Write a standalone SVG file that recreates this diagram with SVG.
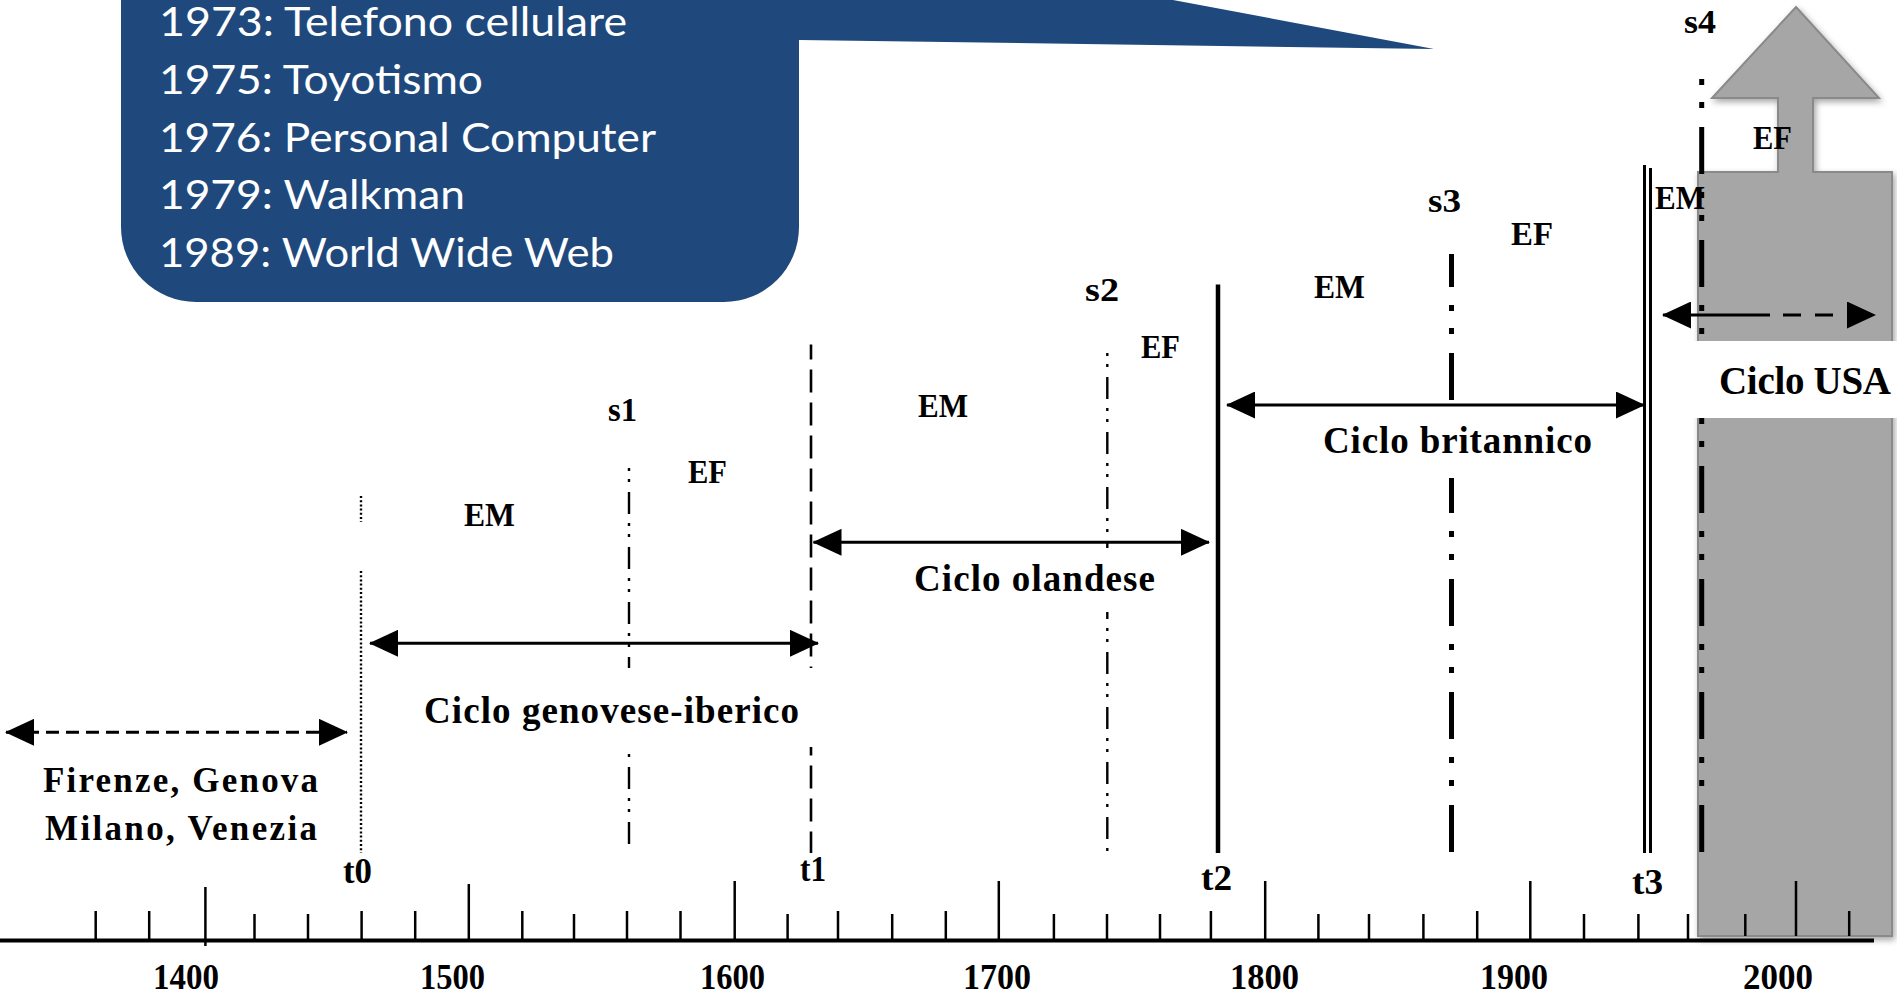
<svg xmlns="http://www.w3.org/2000/svg" width="1897" height="997" viewBox="0 0 1897 997">
<style>
.lbl{font-family:"Liberation Serif","Times New Roman",serif;font-weight:bold;fill:#000}
.s33{font-size:33px}
.s35{font-size:35px}
.s37{font-size:37px}
.co{font-family:Lato,"Open Sans",sans-serif;fill:#fff;font-size:40px}
.tick{stroke:#000;stroke-width:2.5}
.bg{fill:#fff;stroke:none}
.conn{stroke:#000;stroke-width:3;fill:none}
</style>
<defs>
<marker id="ah" viewBox="0 0 29 27" refX="28" refY="13.5" markerWidth="29" markerHeight="27" markerUnits="userSpaceOnUse" orient="auto-start-reverse"><path d="M0,0 L29,13.5 L0,27 Z" fill="#000"/></marker>
<filter id="sh" x="-10%" y="-10%" width="130%" height="130%"><feDropShadow dx="2" dy="3" stdDeviation="3" flood-color="#000" flood-opacity="0.35"/></filter>
</defs>
<rect x="0" y="0" width="1897" height="997" fill="#fff"/>

<g id="callout">
<path d="M121,-5 L1173,-5 L1173,0 L1434,49 L799,40 L799,227 A75,75 0 0 1 724,302 L196,302 A75,75 0 0 1 121,227 Z" fill="#1F497D"/>
<text class="co" x="159" y="36" textLength="468" lengthAdjust="spacingAndGlyphs">1973: Telefono cellulare</text>
<text class="co" x="159" y="94" textLength="324" lengthAdjust="spacingAndGlyphs">1975: Toyotismo</text>
<text class="co" x="159" y="152" textLength="497" lengthAdjust="spacingAndGlyphs">1976: Personal Computer</text>
<text class="co" x="159" y="209" textLength="306" lengthAdjust="spacingAndGlyphs">1979: Walkman</text>
<text class="co" x="159" y="267" textLength="455" lengthAdjust="spacingAndGlyphs">1989: World Wide Web</text>
</g>

<g id="usa-block">
<polygon points="1796,7 1879,98 1813,98 1813,172 1892,172 1892,936 1698,936 1698,172 1778,172 1778,98 1712,98" fill="#A6A6A6" stroke="#8A8A8A" stroke-width="2" filter="url(#sh)"/>
</g>

<g id="axis">
<line x1="0" y1="940.5" x2="1874" y2="940.5" stroke="#000" stroke-width="4"/>
<line class="tick" x1="95.7" y1="911" x2="95.7" y2="940"/>
<line class="tick" x1="149.2" y1="911" x2="149.2" y2="940"/>
<line class="tick" x1="205.4" y1="887" x2="205.4" y2="946"/>
<line class="tick" x1="254.5" y1="914" x2="254.5" y2="940"/>
<line class="tick" x1="308" y1="914" x2="308" y2="940"/>
<line class="tick" x1="361.6" y1="911" x2="361.6" y2="940"/>
<line class="tick" x1="415.2" y1="911" x2="415.2" y2="940"/>
<line class="tick" x1="468.8" y1="884" x2="468.8" y2="940"/>
<line class="tick" x1="522.3" y1="911" x2="522.3" y2="940"/>
<line class="tick" x1="574" y1="914" x2="574" y2="940"/>
<line class="tick" x1="627" y1="911" x2="627" y2="940"/>
<line class="tick" x1="680.5" y1="911" x2="680.5" y2="940"/>
<line class="tick" x1="734.7" y1="881" x2="734.7" y2="940"/>
<line class="tick" x1="787.6" y1="914" x2="787.6" y2="940"/>
<line class="tick" x1="838" y1="911" x2="838" y2="940"/>
<line class="tick" x1="892.2" y1="914" x2="892.2" y2="940"/>
<line class="tick" x1="945.8" y1="911" x2="945.8" y2="940"/>
<line class="tick" x1="998.8" y1="881" x2="998.8" y2="940"/>
<line class="tick" x1="1053.9" y1="914" x2="1053.9" y2="940"/>
<line class="tick" x1="1107" y1="914" x2="1107" y2="940"/>
<line class="tick" x1="1160" y1="914" x2="1160" y2="940"/>
<line class="tick" x1="1210.9" y1="911" x2="1210.9" y2="940"/>
<line class="tick" x1="1265.2" y1="881" x2="1265.2" y2="940"/>
<line class="tick" x1="1318.4" y1="914" x2="1318.4" y2="940"/>
<line class="tick" x1="1369" y1="914" x2="1369" y2="940"/>
<line class="tick" x1="1423.4" y1="914" x2="1423.4" y2="940"/>
<line class="tick" x1="1477.2" y1="911" x2="1477.2" y2="940"/>
<line class="tick" x1="1530.3" y1="881" x2="1530.3" y2="940"/>
<line class="tick" x1="1584" y1="914" x2="1584" y2="940"/>
<line class="tick" x1="1638.4" y1="914" x2="1638.4" y2="940"/>
<line class="tick" x1="1688" y1="914" x2="1688" y2="940"/>
<line class="tick" x1="1745.3" y1="914" x2="1745.3" y2="936"/>
<line class="tick" x1="1796" y1="881" x2="1796" y2="936"/>
<line class="tick" x1="1849.2" y1="911" x2="1849.2" y2="936"/>
<text class="lbl s35" x="153" y="989" textLength="66" lengthAdjust="spacingAndGlyphs">1400</text>
<text class="lbl s35" x="420" y="989" textLength="65" lengthAdjust="spacingAndGlyphs">1500</text>
<text class="lbl s35" x="700" y="989" textLength="65" lengthAdjust="spacingAndGlyphs">1600</text>
<text class="lbl s35" x="963" y="989" textLength="68" lengthAdjust="spacingAndGlyphs">1700</text>
<text class="lbl s35" x="1230" y="989" textLength="69" lengthAdjust="spacingAndGlyphs">1800</text>
<text class="lbl s35" x="1480" y="989" textLength="68" lengthAdjust="spacingAndGlyphs">1900</text>
<text class="lbl s35" x="1743" y="989" textLength="70" lengthAdjust="spacingAndGlyphs">2000</text>
</g>

<g id="markers-lines">
<line x1="361" y1="496" x2="361" y2="522" stroke="#000" stroke-width="2.4" stroke-dasharray="2 2.2"/>
<line x1="361" y1="571" x2="361" y2="853" stroke="#000" stroke-width="2.4" stroke-dasharray="2 2.2"/>
<line x1="629" y1="466" x2="629" y2="853" stroke="#000" stroke-width="2.4" stroke-dasharray="22 9 3 8 3 10" stroke-dashoffset="29"/>
<line x1="811" y1="344.5" x2="811" y2="853" stroke="#000" stroke-width="2.6" stroke-dasharray="23 10" stroke-dashoffset="8"/>
<line x1="1107.3" y1="353" x2="1107.3" y2="853" stroke="#000" stroke-width="2.4" stroke-dasharray="22 9 3 8 3 10" stroke-dashoffset="31"/>
<line x1="1218" y1="284.5" x2="1218" y2="853" stroke="#000" stroke-width="4.5"/>
<line x1="1451.5" y1="254" x2="1451.5" y2="853" stroke="#000" stroke-width="5" stroke-dasharray="47 18 6 17 6 19" stroke-dashoffset="14"/>
<line x1="1644.5" y1="165" x2="1644.5" y2="853" stroke="#000" stroke-width="3"/>
<line x1="1650.5" y1="168" x2="1650.5" y2="853" stroke="#000" stroke-width="3"/>
<line x1="1701.7" y1="78" x2="1701.7" y2="853" stroke="#000" stroke-width="5" stroke-dasharray="47 18 6 17 6 19" stroke-dashoffset="64"/>
</g>

<g id="label-boxes">
<rect class="bg" x="370" y="668" width="446" height="79"/>
<rect class="bg" x="900" y="548" width="275" height="64"/>
<rect class="bg" x="1300" y="410" width="310" height="68"/>
<rect class="bg" x="1688" y="341" width="209" height="77"/>
</g>

<g id="connectors">
<line class="conn" x1="6" y1="732.3" x2="347" y2="732.3" stroke-width="2.7" stroke-dasharray="13 7" marker-start="url(#ah)" marker-end="url(#ah)"/>
<line class="conn" x1="370" y1="643.3" x2="818" y2="643.3" marker-start="url(#ah)" marker-end="url(#ah)"/>
<line class="conn" x1="813.5" y1="542.3" x2="1209" y2="542.3" marker-start="url(#ah)" marker-end="url(#ah)"/>
<line class="conn" x1="1227" y1="405" x2="1644" y2="405" marker-start="url(#ah)" marker-end="url(#ah)"/>
<line class="conn" x1="1663" y1="315" x2="1770" y2="315" marker-start="url(#ah)"/>
<line class="conn" x1="1783" y1="315" x2="1875" y2="315" stroke-dasharray="18 14" marker-end="url(#ah)"/>
</g>

<g id="labels">
<text class="lbl s33" x="1684" y="33" textLength="32" lengthAdjust="spacingAndGlyphs">s4</text>
<text class="lbl s33" x="1753" y="149" textLength="39" lengthAdjust="spacingAndGlyphs">EF</text>
<text class="lbl s33" x="1428" y="212" textLength="33" lengthAdjust="spacingAndGlyphs">s3</text>
<text class="lbl s33" x="1655" y="209" textLength="50" lengthAdjust="spacingAndGlyphs">EM</text>
<text class="lbl s33" x="1511" y="245" textLength="42" lengthAdjust="spacingAndGlyphs">EF</text>
<text class="lbl s33" x="1314" y="298" textLength="51" lengthAdjust="spacingAndGlyphs">EM</text>
<text class="lbl s33" x="1085" y="301" textLength="34" lengthAdjust="spacingAndGlyphs">s2</text>
<text class="lbl s33" x="1141" y="358" textLength="39" lengthAdjust="spacingAndGlyphs">EF</text>
<text class="lbl s33" x="918" y="417" textLength="50" lengthAdjust="spacingAndGlyphs">EM</text>
<text class="lbl s33" x="608" y="421" textLength="29" lengthAdjust="spacingAndGlyphs">s1</text>
<text class="lbl s33" x="688" y="483" textLength="39" lengthAdjust="spacingAndGlyphs">EF</text>
<text class="lbl s33" x="464" y="526" textLength="51" lengthAdjust="spacingAndGlyphs">EM</text>
<text class="lbl s37" x="424" y="723" textLength="375">Ciclo genovese-iberico</text>
<text class="lbl s37" x="914" y="591" textLength="241">Ciclo olandese</text>
<text class="lbl s37" x="1323" y="453" textLength="269">Ciclo britannico</text>
<text class="lbl" style="font-size:39px" x="1719" y="394" textLength="172">Ciclo USA</text>
<text class="lbl s35" x="43" y="792" textLength="275">Firenze, Genova</text>
<text class="lbl s35" x="45" y="840" textLength="272">Milano, Venezia</text>
<text class="lbl s35" x="343" y="883" textLength="29" lengthAdjust="spacingAndGlyphs">t0</text>
<text class="lbl s35" x="800" y="881" textLength="26" lengthAdjust="spacingAndGlyphs">t1</text>
<text class="lbl s35" x="1201" y="890" textLength="31" lengthAdjust="spacingAndGlyphs">t2</text>
<text class="lbl s35" x="1632" y="894" textLength="31" lengthAdjust="spacingAndGlyphs">t3</text>
</g>
</svg>
